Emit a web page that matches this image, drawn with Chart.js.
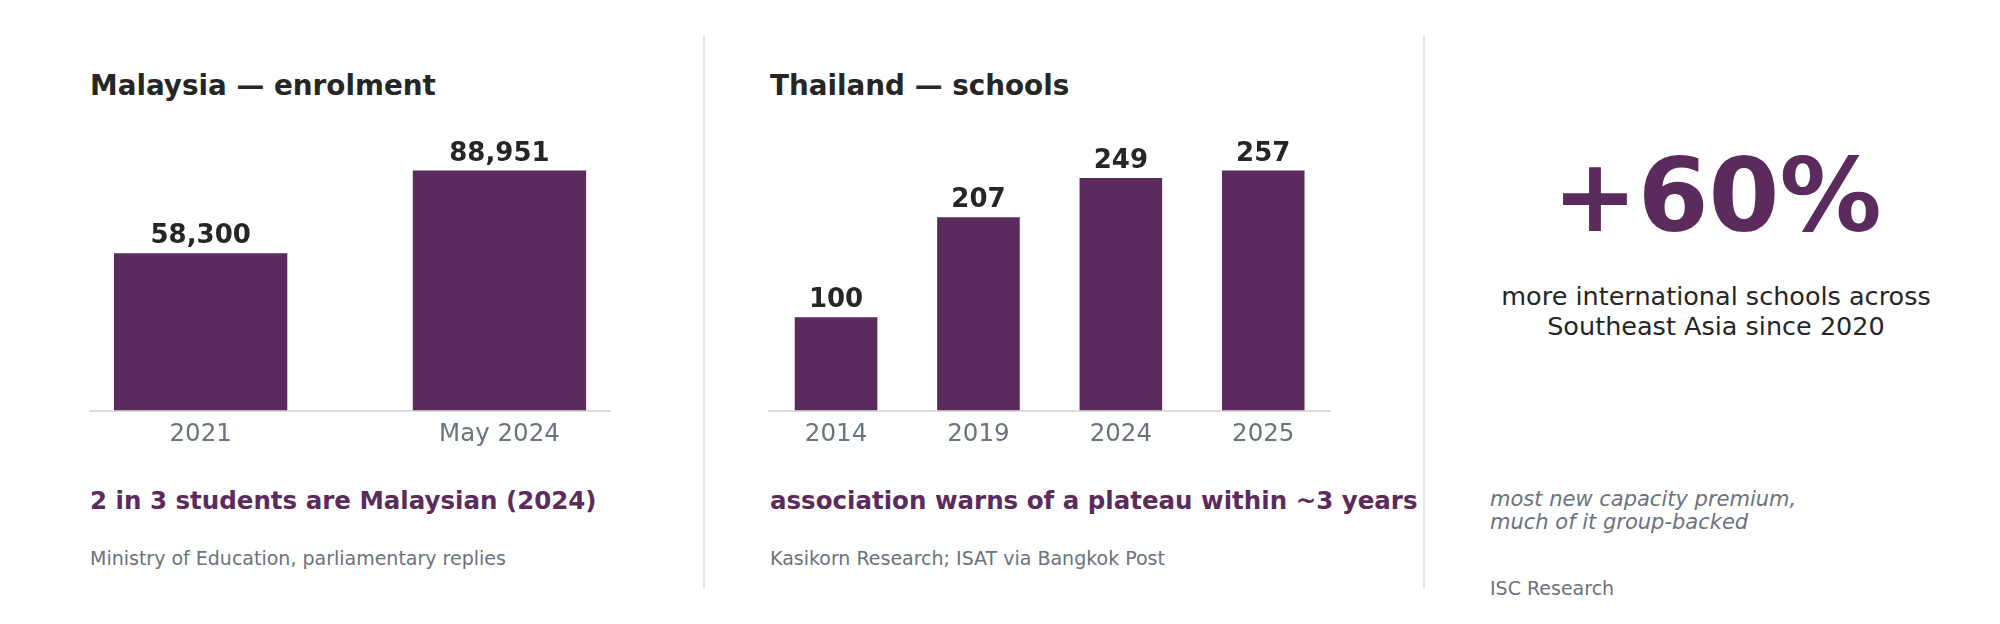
<!DOCTYPE html>
<html>
<head>
<meta charset="utf-8">
<script src="https://cdn.jsdelivr.net/npm/chart.js@4/dist/chart.umd.min.js"></script>
<style>
    body {
        margin: 0;
        width: 2000px;
        height: 624px;
        background: #fff;
        font-family: "DejaVu Sans", sans-serif;
        position: relative;
        overflow: hidden;
    }
    .abs { position: absolute; white-space: nowrap; }
    .title { font-weight: bold; font-size: 27.8px; line-height: 1; color: #262626; }
    .callout { font-weight: bold; font-size: 24.5px; line-height: 1; color: #5c2b5e; }
    .source { font-size: 19px; line-height: 1; color: #6b7280; }
    .divider { position: absolute; top: 36px; width: 2px; height: 552px; background: #e6e6ea; }
    canvas { position: absolute; }
</style>
</head>
<body>
<div class="divider" style="left:703px"></div>
<div class="divider" style="left:1423px"></div>

<div class="abs title" style="left:90px; top:72px">Malaysia — enrolment</div>
<canvas id="malaysiaChart" width="540" height="380" style="left:80px; top:100px"></canvas>
<div class="abs callout" style="left:90px; top:489px">2 in 3 students are Malaysian (2024)</div>
<div class="abs source" style="left:90px; top:549px">Ministry of Education, parliamentary replies</div>

<div class="abs title" style="left:770px; top:72px">Thailand — schools</div>
<canvas id="thailandChart" width="580" height="380" style="left:760px; top:100px"></canvas>
<div class="abs callout" style="left:770px; top:489px">association warns of a plateau within ~3 years</div>
<div class="abs source" style="left:770px; top:549px">Kasikorn Research; ISAT via Bangkok Post</div>

<div class="abs" style="left:1490px; width:454px; top:145px; text-align:center; font-weight:bold; font-size:102px; line-height:1; color:#5c2b5e">+60%</div>
<div class="abs" style="left:1490px; width:452px; top:281px; text-align:center; font-size:25.5px; line-height:30px; color:#262626">more international schools across<br>Southeast Asia since 2020</div>
<div class="abs" style="left:1490px; top:488px; font-style:italic; font-size:21px; line-height:22.5px; color:#6b7280">most new capacity premium,<br>much of it group-backed</div>
<div class="abs source" style="left:1490px; top:579px">ISC Research</div>

<script>
const malaysiaLabels = ["2021", "May 2024"];
const malaysiaValues = [58300, 88951];

const thailandLabels = ["2014", "2019", "2024", "2025"];
const thailandValues = [100, 207, 249, 257];

const barColor = "#5c2b5e";
const headroom = 1.237;

// draws the number above each bar
const valueLabels = {
    id: "valueLabels",
    afterDatasetsDraw(chart) {
        const ctx = chart.ctx;
        const values = chart.data.datasets[0].data;
        ctx.save();
        ctx.font = "bold 26px 'DejaVu Sans'";
        ctx.fillStyle = "#262626";
        ctx.textAlign = "center";
        ctx.textBaseline = "alphabetic";
        chart.getDatasetMeta(0).data.forEach((bar, i) => {
            ctx.fillText(values[i].y.toLocaleString("en-US"), bar.x, bar.y - 10);
        });
        ctx.restore();
    }
};

function renderBars(canvasId, labels, values, xMin, xMax, padding) {
    new Chart(document.getElementById(canvasId), {
        type: "bar",
        data: {
            datasets: [{
                data: values.map((v, i) => ({ x: i, y: v })),
                backgroundColor: barColor,
                barPercentage: 0.58,
                categoryPercentage: 1
            }]
        },
        options: {
            responsive: false,
            animation: false,
            devicePixelRatio: 1,
            layout: { padding },
            plugins: {
                legend: { display: false },
                tooltip: { enabled: false }
            },
            scales: {
                x: {
                    type: "linear",
                    offset: false,
                    min: xMin,
                    max: xMax,
                    afterBuildTicks: axis => {
                        axis.ticks = labels.map((_, i) => ({ value: i }));
                    },
                    grid: { display: false, drawTicks: false },
                    border: { display: true, color: "#dcdcdf", width: 2 },
                    ticks: {
                        padding: 9,
                        color: "#6b7280",
                        font: { family: "DejaVu Sans", size: 24.5 },
                        callback: value => labels[value]
                    }
                },
                y: {
                    display: false,
                    min: 0,
                    max: Math.max(...values) * headroom
                }
            }
        },
        plugins: [valueLabels]
    });
}

renderBars("malaysiaChart", malaysiaLabels, malaysiaValues, -0.372, 1.372,
    { left: 9.5, right: 9.4, top: 13.6, bottom: 22 });

renderBars("thailandChart", thailandLabels, thailandValues, -0.4715, 3.4715,
    { left: 8.9, right: 9.6, top: 13.6, bottom: 22 });
</script>
</body>
</html>
